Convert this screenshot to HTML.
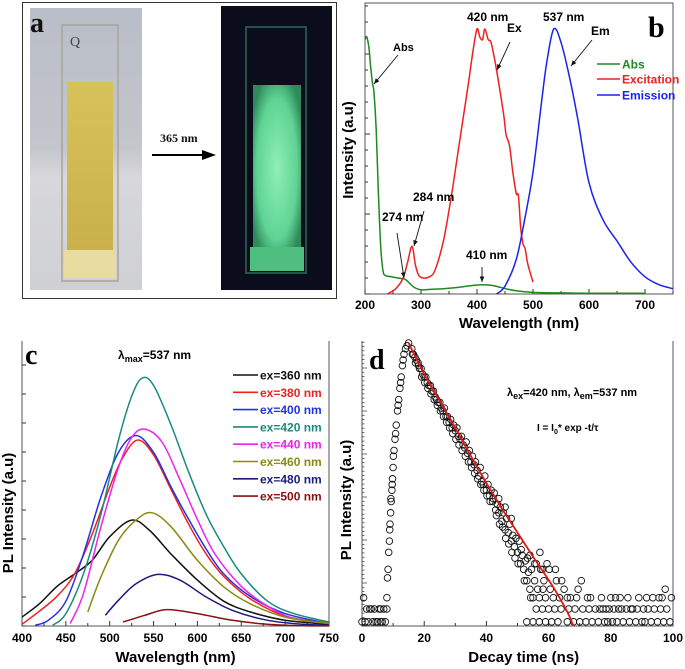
<!DOCTYPE html>
<html><head><meta charset="utf-8"><style>
html,body{margin:0;padding:0;background:#fff;}
svg{display:block;font-family:"Liberation Sans",Arial,sans-serif;}
</style></head><body>
<svg id="fig" width="685" height="669" viewBox="0 0 685 669" xmlns="http://www.w3.org/2000/svg">
<defs>
<linearGradient id="bgL" x1="0" y1="0" x2="0" y2="1"><stop offset="0" stop-color="#b9bdc7"/><stop offset="0.5" stop-color="#c4c6cc"/><stop offset="0.6" stop-color="#d8d8dc"/><stop offset="1" stop-color="#cfd0d4"/></linearGradient>
<linearGradient id="liqY" x1="0" y1="0" x2="0" y2="1"><stop offset="0" stop-color="#d7c25a"/><stop offset="1" stop-color="#c9b04a"/></linearGradient>
<radialGradient id="glow" cx="0.5" cy="0.5" r="0.6"><stop offset="0" stop-color="#8fefb5"/><stop offset="0.7" stop-color="#5fd394"/><stop offset="1" stop-color="#2e8a5a"/></radialGradient>
</defs>
<g>
<rect x="22.5" y="2.5" width="314" height="296" fill="#fff" stroke="#333" stroke-width="1"/>
<rect x="30" y="8" width="112" height="282" fill="url(#bgL)"/>
<rect x="62" y="25" width="56" height="256" fill="none" stroke="#a8a49a" stroke-width="1.5"/>
<rect x="67" y="82" width="46" height="170" fill="url(#liqY)"/>
<rect x="64" y="250" width="52" height="28" fill="#e8dca0"/>
<text x="70" y="46" font-family="Liberation Serif,serif" font-size="14" fill="#444">Q</text>
<text x="30" y="32" font-family="Liberation Serif,serif" font-weight="bold" font-size="28" fill="#111">a</text>
<text x="160" y="142" font-family="Liberation Serif,serif" font-weight="bold" font-size="12" fill="#111">365 nm</text>
<line x1="152" y1="155" x2="204" y2="155" stroke="#000" stroke-width="2"/>
<polygon points="202,150 216,155 202,160" fill="#000"/>
<rect x="221" y="6" width="111" height="284" fill="#0b0c1c"/>
<rect x="246" y="27" width="60" height="246" fill="none" stroke="#2f6a52" stroke-width="1.5"/>
<rect x="253" y="85" width="48" height="168" fill="url(#glow)"/>
<rect x="250" y="247" width="54" height="24" fill="#4fbf80"/>
</g>
<g id="pb"></g>
<g id="pc"></g>
<g id="pd"></g>
</svg>
<script>
// ---------- Panel b data ----------
var absWl = [200,203,207,210,213,216,220,224,228,232,236,245,255,265,272,280,288,300,320,340,370,395,410,425,440,455,470,500,550,600,650,700];
var absVal = [0.96,0.97,0.93,0.86,0.80,0.76,0.62,0.38,0.18,0.09,0.07,0.066,0.062,0.058,0.055,0.04,0.025,0.016,0.018,0.02,0.026,0.033,0.035,0.033,0.026,0.018,0.012,0.006,0.004,0.003,0.003,0.003];
var excWl = [240,255,268,276,284,290,296,305,315,325,340,355,365,375,385,393,400,405,410,414,420,425,432,440,448,452,458,464,470,474,478,482,486,490,495,500];
var excVal = [0,0.02,0.06,0.12,0.18,0.11,0.07,0.06,0.065,0.09,0.2,0.38,0.52,0.66,0.8,0.92,1.0,0.97,0.96,1.0,0.96,0.95,0.88,0.78,0.67,0.6,0.56,0.46,0.38,0.37,0.25,0.19,0.17,0.12,0.08,0.045];
var emWl = [435,450,470,485,500,515,525,537,550,565,580,600,625,650,675,700,725,750];
var emVal = [0,0.03,0.13,0.28,0.46,0.72,0.88,1.0,0.95,0.82,0.66,0.42,0.28,0.2,0.12,0.065,0.035,0.02];
var bTicks = [200,300,400,500,600,700];

// ---------- Panel c data ----------
var cTicks = [400,450,500,550,600,650,700,750];
var cLegend = ["ex=360 nm","ex=380 nm","ex=400 nm","ex=420 nm","ex=440 nm","ex=460 nm","ex=480 nm","ex=500 nm"];
var cColors = ["#111111","#ee2222","#2233dd","#1a8a80","#ee22ee","#8a8a10","#1a1a80","#8a1010"];
var wl360 = [400,420,440,460,480,500,525,545,570,600,630,660,700,750];
var pl360 = [3.6,9,16,21,26.5,36,42.7,38.7,29,18.5,10,5.7,2.3,0.7];
var wl380 = [400,420,440,460,480,500,515,532,550,570,590,610,630,660,700,750];
var pl380 = [0.7,6,12,21,37,56,68,75,69,55,41,29,20,11,4,1];
var wl400 = [415,430,450,470,490,510,530,550,570,590,610,630,660,700,750];
var pl400 = [0.3,2.3,10,29,52,70,76.8,70,56,43,31,21,12,5,1];
var wl420 = [435,450,470,490,510,525,537,550,570,590,610,630,650,680,710,750];
var pl420 = [0.3,5,21,45,75,92.6,100,97,81,62,45,32,21,10,5,1.6];
var wl440 = [455,470,490,510,525,540,560,580,600,620,650,680,710,750];
var pl440 = [1,13,40,64,76,79.4,74,59,43,29,16,8,3,1];
var wl460 = [475,490,510,530,548,570,600,630,660,700,750];
var pl460 = [5.7,19.8,34.6,42.7,45.7,40,26.5,15.8,9,3.6,1];
var wl480 = [495,510,530,555,580,610,640,680,720,750];
var pl480 = [4.3,10.4,17,20.8,18.5,11.7,6.3,2.3,0.7,0.3];
var wl500 = [515,540,565,600,640,680,720,750];
var pl500 = [1.6,4.3,6.6,5,2.3,0.7,0.1,0.05];

// ---------- Panel d data ----------
var dTicks = [0,20,40,60,80,100];
var decayTime = [0,0.5,1,1.5,2,3,3.5,4,4.5,5,5.5,6,6.5,7,7.5,8,8,8.2,8.4,8.6,8.8,9,9.2,9.4,9.6,9.8,10,10.3,10.6,11,11.4,11.8,12.2,12.6,13,13.5,14,14.5,15,
16,16.5,17,17.5,18,18.5,19,19.5,20,20.5,21,21.5,22,22.5,23,23.5,24,24.5,25,25.5,26,26.5,27,27.5,28,28.5,29,29.5,30,30.5,31,31.5,32,32.5,33,33.5,34,34.5,35,35.5,36,36.5,37,37.5,38,38.5,39,39.5,40,40.5,41,41.5,42,42.5,43,43.5,44,44.5,45,45.5,46,46.5,47,47.5,48,48.5,49,49.5,50,50.5,51,51.5,52,52.5,53,53.5,54,54.5,55,55.5,56,56.5,57,57.5,58,58.5,59,59.5,60,60.5,61,61.5,62,62.5,63,63.5,64,65,66,66.5,67,68,68.5,69,70,70.5,71,72,72.5,73,74,75,76,77,78,78.5,79,80,80.5,81,82,82.5,83,84,85,86,87,88,89,90,90.5,91,92,93,94,95,95.5,96,97,98,99,99.5,53,55,57,59,54,56,58,48,46,44,
16.2,17.2,18.2,19.2,20.2,21.2,22.2,23.2,24.2,25.2,26.2,27.2,28.2,29.2,30.2,31.2,32.2,33.2,34.2,35.2,36.2,37.2,38.2,39.2,40.2,41.2,42.2,43.2,44.2,45.2,46.2,47.2,48.2,49.2,50.2,51.2,52.2,53.2,54.2,55.5,57.2,58.2,60.2,62.2,64.2,66,69.5,73.5,76.5,77.5,79.5,81.5,83.5,85.5,86.5,88.5,91.5,93.5,96.5,97.5,2.5,6,8.9,9.3,9.7,10.1,10.8,11.6,12.4,13.2];
var decayCounts = [0.015,0.1,0.015,0.06,0.015,0.06,0.015,0.06,0.015,0.015,0.06,0.015,0.015,0.06,0.015,0.1,0.06,0.17,0.2,0.26,0.3,0.36,0.4,0.44,0.48,0.52,0.56,0.62,0.66,0.71,0.76,0.8,0.84,0.88,0.92,0.96,0.98,0.99,1.0,
0.98,0.96,0.95,0.94,0.93,0.91,0.91,0.89,0.88,0.88,0.86,0.85,0.85,0.83,0.83,0.81,0.8,0.79,0.79,0.77,0.76,0.77,0.74,0.74,0.72,0.73,0.7,0.71,0.69,0.7,0.67,0.66,0.67,0.64,0.63,0.65,0.61,0.62,0.58,0.6,0.57,0.58,0.55,0.53,0.56,0.51,0.5,0.53,0.48,0.5,0.46,0.48,0.44,0.47,0.41,0.43,0.4,0.42,0.37,0.4,0.34,0.38,0.33,0.36,0.3,0.32,0.28,0.31,0.26,0.3,0.22,0.25,0.2,0.23,0.16,0.19,0.13,0.2,0.1,0.16,0.06,0.13,0.1,0.2,0.06,0.16,0.1,0.22,0.06,0.13,0.015,0.1,0.06,0.16,0.015,0.1,0.06,0.13,0.015,0.06,0.1,0.015,0.06,0.1,0.015,0.16,0.06,0.015,0.1,0.06,0.015,0.06,0.015,0.1,0.015,0.06,0.015,0.1,0.015,0.06,0.015,0.06,0.1,0.015,0.06,0.015,0.06,0.015,0.1,0.015,0.06,0.015,0.06,0.015,0.06,0.015,0.1,0.06,0.015,0.06,0.015,0.1,0.015,0.015,0.015,0.015,0.25,0.22,0.2,0.38,0.42,0.45,
0.96,0.93,0.92,0.88,0.86,0.84,0.82,0.8,0.78,0.76,0.74,0.72,0.7,0.68,0.66,0.64,0.62,0.6,0.58,0.56,0.54,0.52,0.5,0.48,0.46,0.44,0.45,0.39,0.36,0.35,0.31,0.29,0.26,0.24,0.22,0.27,0.16,0.24,0.1,0.22,0.26,0.13,0.2,0.2,0.16,0.1,0.13,0.1,0.06,0.06,0.06,0.1,0.06,0.1,0.06,0.06,0.1,0.1,0.1,0.13,0.06,0.06,0.34,0.45,0.5,0.6,0.68,0.78,0.86,0.94];
var fitTime = [15,20,25,30,35,40,45,50,55,60,63,66,68];
var fitCounts = [1.0,0.89,0.795,0.7,0.6,0.505,0.415,0.33,0.245,0.163,0.11,0.05,0];

var NS = "http://www.w3.org/2000/svg";
function mk(parent, tag, attrs, text) {
  var e = document.createElementNS(NS, tag);
  for (var k in attrs) e.setAttribute(k, attrs[k]);
  if (text !== undefined) e.textContent = text;
  parent.appendChild(e);
  return e;
}
function linePath(xs, ys, sx, sy) {
  var d = "";
  for (var i = 0; i < xs.length; i++) d += (i ? "L" : "M") + sx(xs[i]).toFixed(1) + "," + sy(ys[i]).toFixed(1);
  return d;
}
function smoothPath(xs, ys, sx, sy) {
  var P = xs.map(function(x,i){return [sx(x), sy(ys[i])];});
  var d = "M" + P[0][0].toFixed(1) + "," + P[0][1].toFixed(1);
  for (var i = 0; i < P.length - 1; i++) {
    var p0 = P[Math.max(i-1,0)], p1 = P[i], p2 = P[i+1], p3 = P[Math.min(i+2,P.length-1)];
    var c1 = [p1[0]+(p2[0]-p0[0])/6, p1[1]+(p2[1]-p0[1])/6];
    var c2 = [p2[0]-(p3[0]-p1[0])/6, p2[1]-(p3[1]-p1[1])/6];
    d += "C" + c1[0].toFixed(1)+","+c1[1].toFixed(1)+" "+c2[0].toFixed(1)+","+c2[1].toFixed(1)+" "+p2[0].toFixed(1)+","+p2[1].toFixed(1);
  }
  return d;
}

// ===== Panel b =====
(function(){
  var g = document.getElementById("pb");
  var L=365,R=673,T=3,B=294;
  var sx=function(v){return L+(v-200)*(R-L)/550;};
  var sy=function(v){return B-v*(B-29);};
  var fr=mk(g,"rect",{x:L,y:T,width:R-L,height:B-T,fill:"none",stroke:"#555","stroke-width":1});
  
  
  for (var y=B; y>T; y-=16) { var t=mk(g,"line",{x1:L,y1:y,x2:L+((B-y)%80<1?5:3),y2:y,stroke:"#333"});   }
  for (var v=200; v<=750; v+=50) { var major=(v%100===0); var t2=mk(g,"line",{x1:sx(v),y1:B,x2:sx(v),y2:B-(major?5:3),stroke:"#333"});   }
  bTicks.forEach(function(v){ var tl=mk(g,"text",{x:sx(v),y:B+15,"text-anchor":"middle","font-size":12,"font-weight":"bold"},String(v));   });
  var xt=mk(g,"text",{x:sx(475),y:B+34,"text-anchor":"middle","font-size":15,"font-weight":"bold"},"Wavelength (nm)");
   
  var yt=mk(g,"text",{x:0,y:0,"text-anchor":"middle","font-size":15,"font-weight":"bold",transform:"translate(353,150) rotate(-90)"},"Intensity (a.u)");
   
  var series=[[absWl,absVal,"#1e8a1e","abs-curve"],[excWl,excVal,"#ee2020","excitation-curve"],[emWl,emVal,"#1a22ee","emission-curve"]];
  series.forEach(function(s){ var p=mk(g,"path",{d:smoothPath(s[0],s[1],sx,sy),fill:"none",stroke:s[2],"stroke-width":1.5,"stroke-linejoin":"round"});   });
  var legNames=["Abs","Excitation","Emission"], legCols=["#1e8a1e","#ee2020","#1a22ee"], legY=[64,79,95];
  for (var i=0;i<3;i++){
    var ll=mk(g,"line",{x1:597,y1:legY[i],x2:620,y2:legY[i],stroke:legCols[i],"stroke-width":1.6});  
    var lt=mk(g,"text",{x:622,y:legY[i]+4.5,"font-size":12,"font-weight":"bold",fill:legCols[i]},legNames[i]);  
  }
  var notes=[["Abs",393,51,11],["420 nm",467,21,12],["Ex",507,32,12],["537 nm",543,21,12],["Em",591,35,12],["284 nm",413,201,12],["274 nm",382,221,12],["410 nm",466,259,12]];
  notes.forEach(function(n){ var a=mk(g,"text",{x:n[1],y:n[2],"font-size":n[3],"font-weight":"bold"},n[0]);   });
  var arrows=[[398,55,374,84],[510,42,497,70],[592,40,571,66],[424,211,414,246],[397,233,404,278],[482,267,482,282]];
  arrows.forEach(function(a){
    var ln=mk(g,"line",{x1:a[0],y1:a[1],x2:a[2],y2:a[3],stroke:"#111","stroke-width":0.9});  
    var ang=Math.atan2(a[3]-a[1],a[2]-a[0]), hx=a[2], hy=a[3];
    var p1=[hx-6*Math.cos(ang-0.4),hy-6*Math.sin(ang-0.4)], p2=[hx-6*Math.cos(ang+0.4),hy-6*Math.sin(ang+0.4)];
    var ah=mk(g,"polygon",{points:hx+","+hy+" "+p1.join(",")+" "+p2.join(","),fill:"#111"});  
  });
  var pl=mk(g,"text",{x:648,y:37,"font-family":"Liberation Serif,serif","font-size":30,"font-weight":"bold"},"b");
   
})();

// ===== Panel c =====
(function(){
  var g=document.getElementById("pc");
  var L=22,R=329,T=341,B=626;
  var sx=function(v){return L+(v-400)*(R-L)/350;};
  var sy=function(v){return B-v*(B-378)/100;};
  var fr=mk(g,"path",{d:"M"+L+","+T+"V"+B+"H"+R+"V"+T,fill:"none",stroke:"#555","stroke-width":1});
   
  for (var y=B; y>T; y-=29) { var t=mk(g,"line",{x1:L,y1:y,x2:L+4,y2:y,stroke:"#333"});   }
  for (var v=400; v<=750; v+=25) { var t2=mk(g,"line",{x1:sx(v),y1:B,x2:sx(v),y2:B-(v%50===0?5:3),stroke:"#333"});   }
  cTicks.forEach(function(v){ var tl=mk(g,"text",{x:sx(v),y:B+16,"text-anchor":"middle","font-size":12,"font-weight":"bold"},String(v));   });
  var xt=mk(g,"text",{x:sx(575),y:B+36,"text-anchor":"middle","font-size":15,"font-weight":"bold"},"Wavelength (nm)");
   
  var yt=mk(g,"text",{x:0,y:0,"text-anchor":"middle","font-size":15,"font-weight":"bold",transform:"translate(13,513) rotate(-90)"},"PL Intensity (a.u)");
   
  var xs=[wl360,wl380,wl400,wl420,wl440,wl460,wl480,wl500], ys=[pl360,pl380,pl400,pl420,pl440,pl460,pl480,pl500];
  for (var i=0;i<8;i++){
    var p=mk(g,"path",{d:smoothPath(xs[i],ys[i],sx,sy),fill:"none",stroke:cColors[i],"stroke-width":1.5,"stroke-linejoin":"round"});
    
    
    var ly=375+i*17.3;
    var ll=mk(g,"line",{x1:233,y1:ly,x2:258,y2:ly,stroke:cColors[i],"stroke-width":1.6});
     
    var lt=mk(g,"text",{x:260,y:ly+4.5,"font-size":12,"font-weight":"bold",fill:cColors[i]},cLegend[i]);
     
  }
  var lm=mk(g,"text",{x:118,y:359,"font-size":12,"font-weight":"bold"});
   
  mk(lm,"tspan",{},"λ"); mk(lm,"tspan",{dy:3,"font-size":9},"max"); mk(lm,"tspan",{dy:-3},"=537 nm");
  var pl=mk(g,"text",{x:25,y:364,"font-family":"Liberation Serif,serif","font-size":28,"font-weight":"bold"},"c");
   
})();

// ===== Panel d =====
(function(){
  var g=document.getElementById("pd");
  var L=362,R=673,T=341,B=626;
  var sx=function(v){return L+v*(R-L)/100;};
  var sy=function(v){return B-v*(B-343);};
  var fr=mk(g,"path",{d:"M"+L+","+T+"V"+B+"H"+R+"V"+T,fill:"none",stroke:"#555","stroke-width":1});
   
  for (var y=B; y>T; y-=4.3) { var major=Math.abs(((B-y)/43.3)-Math.round((B-y)/43.3))<0.05; var t=mk(g,"line",{x1:L,y1:y,x2:L+(major?5:2.5),y2:y,stroke:"#333","stroke-width":0.7});   }
  for (var v=0; v<=100; v+=10) { var t2=mk(g,"line",{x1:sx(v),y1:B,x2:sx(v),y2:B-(v%20===0?5:3),stroke:"#333"});   }
  dTicks.forEach(function(v){ var tl=mk(g,"text",{x:sx(v),y:B+16,"text-anchor":"middle","font-size":12,"font-weight":"bold"},String(v));   });
  var xt=mk(g,"text",{x:sx(52),y:B+36,"text-anchor":"middle","font-size":15,"font-weight":"bold"},"Decay time (ns)");
   
  var yt=mk(g,"text",{x:0,y:0,"text-anchor":"middle","font-size":15,"font-weight":"bold",transform:"translate(351,500) rotate(-90)"},"PL Intensity (a.u)");
   
  for (var i=0;i<decayTime.length;i++){
    var c=mk(g,"circle",{cx:sx(decayTime[i]).toFixed(1),cy:sy(decayCounts[i]).toFixed(1),r:3.3,fill:"none",stroke:"#111","stroke-width":0.9});
    
    
  }
  var fit=mk(g,"path",{d:smoothPath(fitTime,fitCounts,sx,sy),fill:"none",stroke:"#e01818","stroke-width":1.8});
   
  var t1=mk(g,"text",{x:507,y:396,"font-size":11,"font-weight":"bold"});
   
  mk(t1,"tspan",{},"λ"); mk(t1,"tspan",{dy:3,"font-size":9},"ex"); mk(t1,"tspan",{dy:-3},"=420 nm, λ"); mk(t1,"tspan",{dy:3,"font-size":9},"em"); mk(t1,"tspan",{dy:-3},"=537 nm");
  var t3=mk(g,"text",{x:537,y:431,"font-size":10,"font-weight":"bold"});
   
  mk(t3,"tspan",{},"I = I"); mk(t3,"tspan",{dy:3,"font-size":7},"0"); mk(t3,"tspan",{dy:-3},"* exp -t/τ");
  var pl=mk(g,"text",{x:369,y:369,"font-family":"Liberation Serif,serif","font-size":28,"font-weight":"bold"},"d");
   
})();
</script>
</body></html>
